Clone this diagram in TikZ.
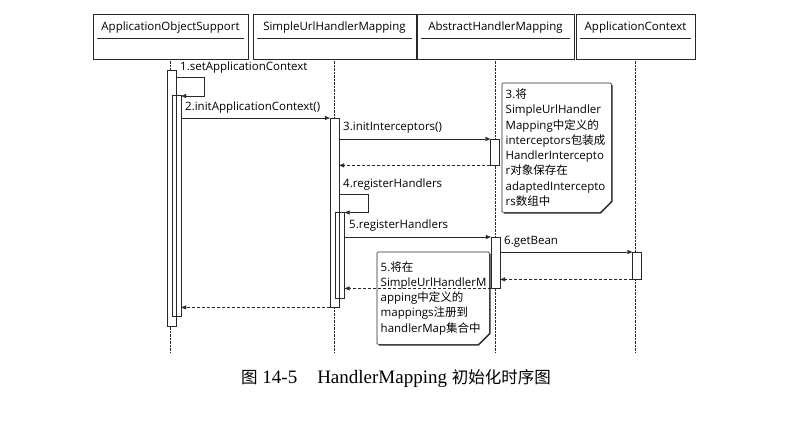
\documentclass[tikz,border=0pt]{standalone}
\usepackage{fontspec}
\setmainfont{Liberation Serif}
\setsansfont{Open Sans}
\newfontfamily\cjk{Noto Sans CJK SC}
\usepackage{xcolor}
\definecolor{linecolor}{RGB}{40, 40, 40}
\usepackage{tikz}
\usetikzlibrary{arrows.meta, positioning}

\begin{document}
\begin{tikzpicture}[
    x=1pt,y=-1pt,
    font=\sffamily\fontsize{11.5}{15.3}\selectfont,
    head/.style={draw=linecolor, minimum height=45pt, inner sep=0pt},
    life/.style={draw=linecolor, densely dotted},
    bar/.style={draw=linecolor, fill=white, minimum width=9pt,
      inner sep=0pt, anchor=north},
    msg/.style={draw=linecolor, -{Triangle[length=5pt,width=4pt]}},
    ret/.style={msg, densely dashed},
    lbl/.style={anchor=west, inner sep=0pt},
    note/.style={anchor=north west, align=left, inner xsep=3.5pt,
      inner ysep=0pt},
    noteline/.style={draw=linecolor, line width=0.6pt, rounded corners=1pt}
  ]
  \useasboundingbox (0,0) rectangle (808,443);
  % objects
  \node[head, minimum width=155pt] (aos) at (170.5,36.5) {};
  \node[head, minimum width=163pt] (suhm) at (334.5,36.5) {};
  \node[head, minimum width=157pt] (ahm) at (495.5,36.5) {};
  \node[head, minimum width=119pt] (actx) at (635.5,36.5) {};
  \node (aos-t) at ([yshift=-14pt]aos.north) {ApplicationObjectSupport};
  \node (suhm-t) at ([yshift=-14pt]suhm.north) {SimpleUrlHandlerMapping};
  \node (ahm-t) at ([yshift=-14pt]ahm.north) {AbstractHandlerMapping};
  \node (actx-t) at ([yshift=-14pt]actx.north) {ApplicationContext};
  \draw[linecolor]
    ([xshift=4pt,yshift=-24pt]aos.north west) -- ([xshift=-4pt,yshift=-24pt]aos.north east)
    ([xshift=4pt,yshift=-24pt]suhm.north west) -- ([xshift=-4pt,yshift=-24pt]suhm.north east)
    ([xshift=4pt,yshift=-24pt]ahm.north west) -- ([xshift=-4pt,yshift=-24pt]ahm.north east)
    ([xshift=4pt,yshift=-24pt]actx.north west) -- ([xshift=-4pt,yshift=-24pt]actx.north east);
  % lifelines
  \coordinate (end) at (0,353);
  \path
    (aos.south) edge[life] (aos |- end)
    (suhm.south) edge[life] (suhm |- end)
    (ahm.south) edge[life] (ahm |- end)
    (actx.south) edge[life] (actx |- end);
  % activations
  \node[bar, minimum height=256pt] (b1o) at (171.5,70) {};
  \node[bar, minimum height=221pt] (b1i) at (176.5,95) {};
  \node[bar, minimum height=189pt] (b2o) at (334.5,118) {};
  \node[bar, minimum height=86pt] (b2i) at (340,212) {};
  \node[bar, minimum height=26pt] (b3a) at (495,139) {};
  \node[bar, minimum height=51pt] (b3b) at (495.5,237) {};
  \node[bar, minimum height=27pt] (b4) at (637,252) {};
  \draw[linecolor] (b1o.north west) rectangle (b1o.south east)
    (b2o.north west) rectangle (b2o.south east);
  % notes
  \node[note, text width=102pt, minimum height=129pt] (n1) at (502,83)
    {3.{\cjk 将}\\SimpleUrlHandler\\Mapping{\cjk 中定义的}\\
     interceptors{\cjk 包装成}\\HandlerIntercepto\\r{\cjk 对象保存在}\\
     adaptedIntercepto\\rs{\cjk 数组中}};
  \node[note, text width=105pt, minimum height=92pt] (n2) at (377,252)
    {5.{\cjk 将在}\\SimpleUrlHandlerM\\apping{\cjk 中定义的}\\
     mappings{\cjk 注册到}\\handlerMap{\cjk 集合中}};
  \draw[noteline] (n1.north west) -- (n1.north east) -- ([yshift=11pt]n1.south east)
    -- ([xshift=-11pt]n1.south east) -- (n1.south west) -- cycle;
  \draw[noteline] (n2.north west) -- (n2.north east) -- ([yshift=11pt]n2.south east)
    -- ([xshift=-11pt]n2.south east) -- (n2.south west) -- cycle;
  \draw[linecolor, line width=1.2pt]
    ([xshift=0.6pt,yshift=-2pt]n1.north east) -- ([xshift=0.6pt,yshift=11pt]n1.south east)
    -- ([xshift=-11pt,yshift=-0.6pt]n1.south east) -- ([xshift=2pt,yshift=-0.6pt]n1.south west)
    ([xshift=0.6pt,yshift=-2pt]n2.north east) -- ([xshift=0.6pt,yshift=11pt]n2.south east)
    -- ([xshift=-11pt,yshift=-0.6pt]n2.south east) -- ([xshift=2pt,yshift=-0.6pt]n2.south west);
  % messages
  \coordinate (s1) at (204,77);
  \coordinate (s1b) at (204,96);
  \coordinate (s4) at (368,194);
  \coordinate (s4b) at (368,212.5);
  \coordinate (m3) at (0,139);
  \draw[msg] (b1o.east |- s1) -- (s1) -- (s1b) -- (b1i.east |- s1b);
  \draw[msg] (b2o.east |- s4) -- (s4) -- (s4b) -- (b2i.east |- s4b);
  \path
    (b1i.east |- b2o.north) edge[msg] (b2o.north west)
    (b2o.east |- m3) edge[msg] (b3a.north west)
    (b2i.east |- b3b.north) edge[msg] (b3b.north west)
    (b3b.east |- b4.north) edge[msg] (b4.north west)
    (b3a.south west) edge[ret] (b2o.east |- b3a.south)
    (b4.south west) edge[ret] (b3b.east |- b4.south)
    (b3b.south west) edge[ret] (b2i.east |- b3b.south)
    (b2o.south west) edge[ret] (b1i.east |- b2o.south);
  \node[lbl] (l1) at (180,68) {1.setApplicationContext};
  \node[lbl] (l2) at (185,108) {2.initApplicationContext()};
  \node[lbl] (l3) at (343,128) {3.initInterceptors()};
  \node[lbl] (l4) at (343,185) {4.registerHandlers};
  \node[lbl] (l5) at (349,226) {5.registerHandlers};
  \node[lbl] (l6) at (504,242) {6.getBean};
  % caption
  \node[font=\rmfamily\fontsize{19}{19}\selectfont] (cap) at (396,379)
    {{\cjk\fontsize{16.5}{16.5}\selectfont 图}\ 14-5\hspace{20pt}HandlerMapping
     {\cjk\fontsize{16.5}{16.5}\selectfont 初始化时序图}};
\end{tikzpicture}
\end{document}
